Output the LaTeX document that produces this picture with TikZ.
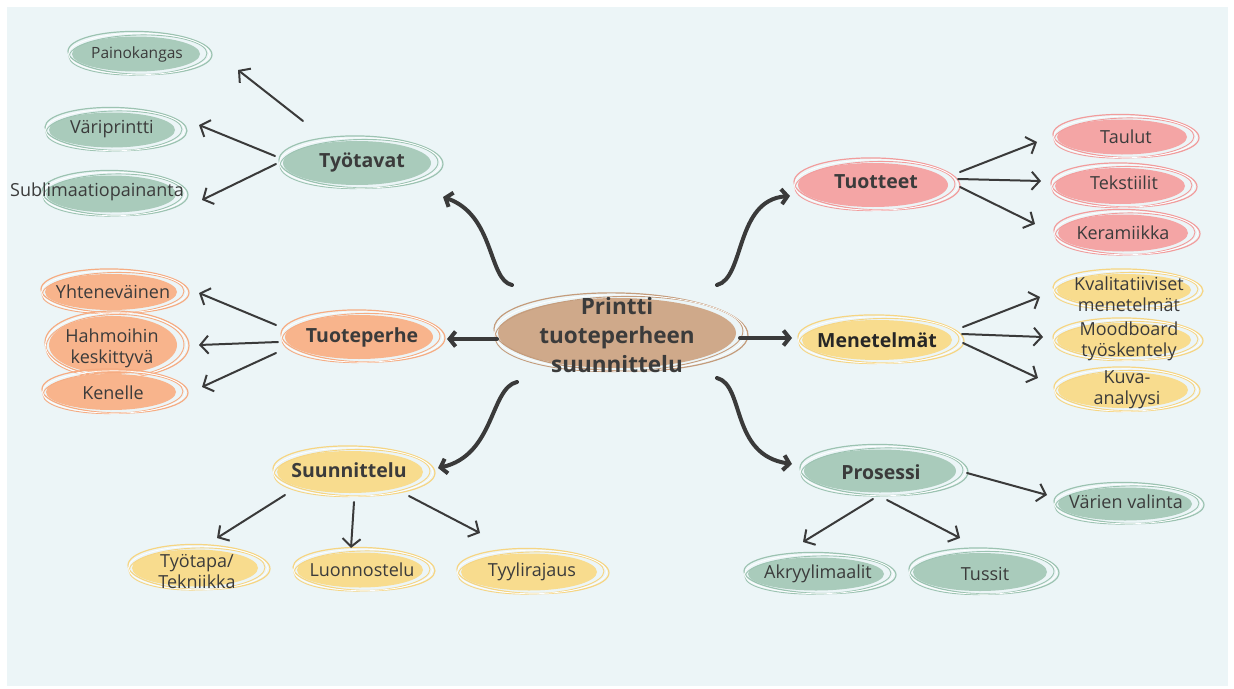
\documentclass[tikz,border=0pt]{standalone}
\usepackage{fontspec}
\setmainfont{Open Sans}
\usetikzlibrary{arrows.meta}
\pgfdeclarelayer{bg}
\pgfsetlayers{bg,main}
\definecolor{bgc}{HTML}{ECF5F7}
\definecolor{txt}{HTML}{3B3B3B}
\definecolor{arr}{HTML}{3A3A3A}
\definecolor{gfill}{HTML}{A9CBBB}
\definecolor{gline}{HTML}{9CC3B1}
\definecolor{ofill}{HTML}{F8B48C}
\definecolor{oline}{HTML}{F6AC82}
\definecolor{pfill}{HTML}{F4A5A5}
\definecolor{pline}{HTML}{F29C9C}
\definecolor{yfill}{HTML}{F8DC8E}
\definecolor{yline}{HTML}{F6D582}
\definecolor{tfill}{HTML}{CFA98A}
\definecolor{tline}{HTML}{C49C7C}
\newcommand\mmblob[4]{%
  \begin{pgfonlayer}{bg}
  \coordinate (mmc) at #1;
  \fill[#4fill] (mmc) ellipse [x radius={#2/2}, y radius={#3/2}];
  \draw[#4line, line width=1.2pt] ([shift={(4,-1)}]mmc) ellipse [x radius={#2/2+8}, y radius={#3/2+4}, rotate=-1.5];
  \draw[#4line, line width=0.9pt] ([shift={(2,1)}]mmc) ellipse [x radius={#2/2+5}, y radius={#3/2+2.5}, rotate=1.5];
  \draw[white, line width=0.7pt] ([shift={(3,0)}]mmc) ellipse [x radius={#2/2+6.5}, y radius={#3/2+3.2}];
  \end{pgfonlayer}}
\tikzset{
  lab/.style={font=\fontsize{18}{21}\selectfont, text=txt, align=center, inner sep=0pt},
  smalllab/.style={lab, font=\fontsize{15.5}{18}\selectfont},
  lone/.style={font=\fontsize{19.5}{22}\selectfont\bfseries, text=txt, inner sep=0pt},
  ltop/.style={font=\fontsize{22.5}{29}\selectfont\bfseries, text=txt, align=center, inner sep=0pt},
  thinarr/.style={draw=arr, line width=2pt, line cap=round, -{Straight Barb[length=8pt,width=18pt]}},
  thickarr/.style={draw=arr, line width=4pt, line cap=round, -{Straight Barb[length=6pt,width=15pt]}},
}
\begin{document}
\begin{tikzpicture}[x=1pt,y=-1pt]
\begin{pgfonlayer}{bg}
\fill[white] (0,0) rectangle (1234,688);
\fill[bgc] (7,7) rectangle (1228,686);
\end{pgfonlayer}
\useasboundingbox (0,0) rectangle (1234,688);

% centre
\node[ltop] (c) at (617,335) {Printti\\tuoteperheen\\suunnittelu};
\mmblob{([shift={(0,-2)}]c.center)}{238}{70}{t}

% level 1
\node[lone] (tyo) at (362,163) {Työtavat};
\mmblob{([shift={(-5,0)}]tyo.center)}{148}{44}{g}
\node[lone] (tper) at (362,337) {Tuoteperhe};
\mmblob{([shift={(-3,0)}]tper.center)}{148}{44}{o}
\node[lone] (tuot) at (876,182) {Tuotteet};
\mmblob{([shift={(-3,3)}]tuot.center)}{150}{44}{p}
\node[lone, text=black!85] (mene) at (877,340) {Menetelmät};
\mmblob{(mene.center)}{150}{40}{y}
\node[lone] (suun) at (349,470) {Suunnittelu};
\mmblob{([shift={(1,2)}]suun.center)}{146}{42}{y}
\node[lone] (pros) at (881,472) {Prosessi};
\mmblob{([shift={(-1,-1)}]pros.center)}{152}{43}{g}

% level 2 green (Työtavat)
\node[smalllab] (pain) at (137,54) {Painokangas};
\mmblob{([shift={(-1,0)}]pain.center)}{128}{35}{g}
\node[lab] (vari) at (112,129) {Väriprintti};
\mmblob{([shift={(0,1)}]vari.center)}{126}{35}{g}
\node[lab] (subl) at (97,192) {Sublimaatiopainanta};
\mmblob{([shift={(14,2)}]subl.center)}{130}{37}{g}

% level 2 peach (Tuoteperhe)
\node[lab] (yht) at (113,292) {Yhteneväinen};
\mmblob{([shift={(-2,0)}]yht.center)}{132}{36}{o}
\node[lab] (hahm) at (112,348) {Hahmoihin\\keskittyvä};
\mmblob{([shift={(1,-3)}]hahm.center)}{128}{58}{o}
\node[lab] (ken) at (113,393) {Kenelle};
\mmblob{([shift={(-2,-1)}]ken.center)}{130}{36}{o}

% level 2 pink (Tuotteet)
\node[lab] (tau) at (1126,137) {Taulut};
\mmblob{([shift={(-4,0)}]tau.center)}{130}{35}{p}
\node[lab] (teks) at (1124,183) {Tekstiilit};
\mmblob{([shift={(-4,3)}]teks.center)}{130}{36}{p}
\node[lab] (ker) at (1123,233) {Keramiikka};
\mmblob{(ker.center)}{130}{37}{p}

% level 2 yellow (Menetelmät)
\node[lab] (kval) at (1129,294) {Kvalitatiiviset\\menetelmät};
\mmblob{([shift={(-5,-4)}]kval.center)}{134}{32}{y}
\node[lab] (mood) at (1129,341) {Moodboard\\työskentely};
\mmblob{([shift={(-5,-1)}]mood.center)}{134}{34}{y}
\node[lab] (kuva) at (1127,390) {Kuva-\\analyysi};
\mmblob{([shift={(-4,0)}]kuva.center)}{130}{36}{y}

% level 2 yellow (Suunnittelu)
\node[lab] (tyot) at (197,572) {Työtapa/\\Tekniikka};
\mmblob{([shift={(-2,-4)}]tyot.center)}{126}{37}{y}
\node[lab] (luon) at (362,570) {Luonnostelu};
\mmblob{([shift={(-2,0)}]luon.center)}{126}{35}{y}
\node[lab] (tyyl) at (532,572) {Tyylirajaus};
\mmblob{([shift={(-3,0)}]tyyl.center)}{136}{37}{y}

% level 2 green (Prosessi)
\node[lab] (vval) at (1126,502) {Värien valinta};
\mmblob{([shift={(-1,2)}]vval.center)}{134}{33}{g}
\node[lab] (akry) at (818,574) {Akryylimaalit};
\mmblob{([shift={(-2,0)}]akry.center)}{136}{33}{g}
\node[lab] (tuss) at (985,574) {Tussit};
\mmblob{([shift={(-5,-2)}]tuss.center)}{134}{38}{g}

% thick connectors from the centre
\draw[thickarr] ([shift={(-105,-50)}]c.center) .. controls +(-24,-5) and +(52,18) .. ([shift={(81,34)}]tyo.center);
\draw[thickarr] ([shift={(100,-50)}]c.center) .. controls +(28,-7) and +(-55,4) .. ([shift={(-86,14)}]tuot.center);
\draw[thickarr] ([shift={(-120,4)}]c.center) -- ([shift={(85,2)}]tper.center);
\draw[thickarr] ([shift={(123,3)}]c.center) -- ([shift={(-85,-2)}]mene.center);
\draw[thickarr] ([shift={(-100,47)}]c.center) .. controls +(-27,6) and +(57,-13) .. ([shift={(89,-2)}]suun.center);
\draw[thickarr] ([shift={(100,43)}]c.center) .. controls +(28,7) and +(-62,-9) .. ([shift={(-89,-8)}]pros.center);

% thin connectors
\draw[thinarr] ([shift={(-59,-42)}]tyo.center) -- ([shift={(101,16)}]pain.center);
\draw[thinarr] ([shift={(-87,-7)}]tyo.center) -- ([shift={(87,-4)}]vari.center);
\draw[thinarr] ([shift={(-86,1)}]tyo.center) -- ([shift={(105,8)}]subl.center);

\draw[thinarr] ([shift={(-86,-12)}]tper.center) -- ([shift={(86,1)}]yht.center);
\draw[thinarr] ([shift={(-84,5)}]tper.center) -- ([shift={(87,-3)}]hahm.center);
\draw[thinarr] ([shift={(-86,16)}]tper.center) -- ([shift={(89,-6)}]ken.center);

\draw[thinarr] ([shift={(84,-10)}]tuot.center) -- ([shift={(-89,5)}]tau.center);
\draw[thinarr] ([shift={(82,-3)}]tuot.center) -- ([shift={(-83,-2)}]teks.center);
\draw[thinarr] ([shift={(84,5)}]tuot.center) -- ([shift={(-88,-9)}]ker.center);

\draw[thinarr] ([shift={(86,-13)}]mene.center) -- ([shift={(-89,3)}]kval.center);
\draw[thinarr] ([shift={(85,-6)}]mene.center) -- ([shift={(-86,-4)}]mood.center);
\draw[thinarr] ([shift={(86,3)}]mene.center) -- ([shift={(-89,-12)}]kuva.center);

\draw[thinarr] ([shift={(-64,25)}]suun.center) -- ([shift={(20,-34)}]tyot.center);
\draw[thinarr] ([shift={(5,32)}]suun.center) -- ([shift={(-11,-22)}]luon.center);
\draw[thinarr] ([shift={(60,26)}]suun.center) -- ([shift={(-52,-39)}]tyyl.center);

\draw[thinarr] ([shift={(86,1)}]pros.center) -- ([shift={(-79,-7)}]vval.center);
\draw[thinarr] ([shift={(-8,27)}]pros.center) -- ([shift={(-15,-32)}]akry.center);
\draw[thinarr] ([shift={(6,28)}]pros.center) -- ([shift={(-25,-36)}]tuss.center);
\end{tikzpicture}
\end{document}
